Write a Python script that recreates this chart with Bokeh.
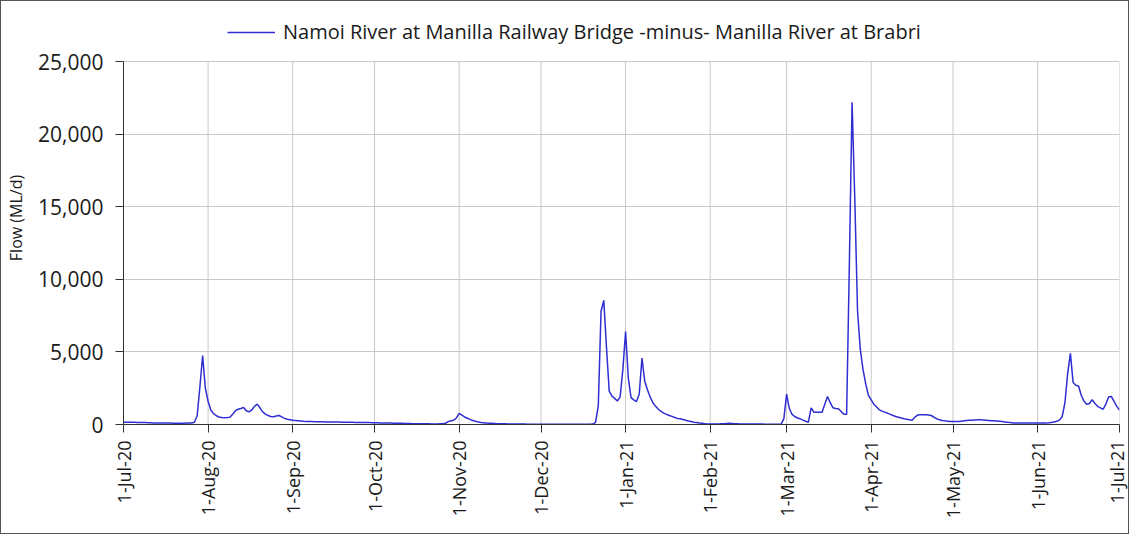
import math
import pandas as pd
from bokeh.plotting import figure
from bokeh.models import (ColumnDataSource, Range1d, FixedTicker, NumeralTickFormatter,
                          Legend, LegendItem)
from bokeh.embed import file_html
from bokeh.resources import INLINE

series_name = "Namoi River at Manilla Railway Bridge -minus- Manilla River at Brabri"
y_label = "Flow (ML/d)"
start_date = "2020-07-01"
end_date = "2021-07-01"

tick_dates = ["2020-07-01", "2020-08-01", "2020-09-01", "2020-10-01", "2020-11-01",
              "2020-12-01", "2021-01-01", "2021-02-01", "2021-03-01", "2021-04-01",
              "2021-05-01", "2021-06-01", "2021-07-01"]
tick_labels = ["1-Jul-20", "1-Aug-20", "1-Sep-20", "1-Oct-20", "1-Nov-20", "1-Dec-20",
               "1-Jan-21", "1-Feb-21", "1-Mar-21", "1-Apr-21", "1-May-21", "1-Jun-21",
               "1-Jul-21"]
y_ticks = [0, 5000, 10000, 15000, 20000, 25000]

# daily flow (ML/d)
flow_jul20 = [150, 160, 160, 150, 150, 140, 140, 130, 130, 120, 120, 110, 110, 100, 100,
              100, 100, 100, 90, 90, 90, 90, 90, 100, 100, 100, 150, 600, 2600, 4750, 2500]
flow_aug20 = [1600, 1000, 750, 600, 520, 480, 470, 480, 500,
              700, 950, 1050, 1100, 1170, 950, 870, 1000, 1250, 1400,
              1150, 870, 720, 620, 550, 540, 580, 620, 520, 420, 360, 330]
flow_sep20 = [300, 280, 260, 240, 220, 210, 200, 200, 195, 190, 190, 185, 180, 180, 175,
              170, 170, 165, 160, 160, 155, 150, 150, 145, 140, 140, 135, 130, 130, 125]
flow_oct20 = [120, 115, 110, 105, 100, 100, 95, 90, 85, 80, 80, 75, 70, 65, 60, 60, 55, 50,
              50, 45, 45, 40, 40, 40, 50, 60, 80, 200, 260, 300, 450]
flow_nov20 = [760, 650, 520, 430, 350, 280, 220, 170, 140, 120, 100, 90, 80, 70, 60, 55, 50,
              45, 40, 40, 35, 35, 30, 30, 30, 25, 25, 25, 20, 20]
flow_dec20 = [25, 20, 20, 20, 15, 15, 15, 15, 15, 15, 15, 15, 15, 15, 15, 15, 15, 15, 15,
              30, 150, 1300, 7800, 8550, 5300, 2300, 1950, 1800, 1620, 1900, 3800]
flow_jan21 = [6400, 3200, 1850, 1700, 1580, 2100, 4570, 3000, 2400, 1900, 1500, 1250, 1050,
              900, 780, 700, 620, 560, 480, 420, 390, 340, 290, 240, 200, 160, 130, 100, 80,
              60, 40]
flow_feb21 = [30, 30, 30, 40, 50, 60, 70, 80, 70, 60, 50, 40, 40, 40, 40, 30, 30, 30, 30, 30,
              20, 20, 20, 20, 20, 20, 30, 400]
flow_mar21 = [2090, 1100, 700, 550, 450, 390, 300, 220, 160, 1150, 850, 850, 850, 850, 1400,
              1930, 1500, 1150, 1100, 1080, 900, 700, 700, 11000, 22200, 15500, 7800, 5200,
              3800, 2800, 2000]
flow_apr21 = [1700, 1400, 1200, 1010, 920, 850, 780, 700, 620, 550, 500, 450, 400, 360, 320,
              300, 500, 650, 670, 680, 670, 660, 620, 500, 400, 320, 280, 250, 230, 210]
flow_may21 = [200, 200, 210, 230, 250, 270, 290, 300, 310, 320, 320, 310, 300, 280, 260, 250,
              240, 220, 200, 180, 150, 130, 110, 100, 100, 100, 100, 100, 100, 100, 100]
flow_jun21 = [100, 100, 100, 110, 120, 140, 170, 220, 300, 550, 1500, 3500, 4900, 2900, 2700,
              2650, 2000, 1600, 1400, 1450, 1700, 1450, 1250, 1150, 1050, 1400, 1900, 1930,
              1600, 1250]
flow_jul21 = [1000]

flow = (flow_jul20 + flow_aug20 + flow_sep20 + flow_oct20 + flow_nov20 + flow_dec20 +
        flow_jan21 + flow_feb21 + flow_mar21 + flow_apr21 + flow_may21 + flow_jun21 +
        flow_jul21)
dates = pd.date_range(start_date, end_date, freq="D")
assert len(dates) == len(flow)

src = ColumnDataSource(dict(date=dates, flow=flow))

FONT = "Open Sans"
TEXT = "#1a1a1a"
GRID = "#c8c8c8"


def to_ms(d):
    return int(pd.Timestamp(d).value // 10**6)


tick_ms = [to_ms(d) for d in tick_dates]

# layout (pixels)
W, H = 1129, 534
TOP, BOTTOM, LEFT, RIGHT = 10, 111, 122, 11
PLOT_H = 363                       # height of the 0..25,000 band
frame_h = H - TOP - BOTTOM
y_max = y_ticks[-1]
y_end = y_max * frame_h / PLOT_H   # headroom so the legend sits inside the frame

p = figure(width=W, height=H, x_axis_type="datetime",
           x_range=Range1d(to_ms(start_date), to_ms(end_date)),
           y_range=Range1d(0, y_end),
           output_backend="svg", toolbar_location=None,
           min_border_left=LEFT, min_border_right=RIGHT,
           min_border_top=TOP, min_border_bottom=BOTTOM)
p.styles = {"border": "1px solid #555555"}
p.background_fill_color = "white"
p.border_fill_color = "white"
p.outline_line_color = None

# vertical gridlines, limited to the 0..25,000 band
p.segment(x0=pd.to_datetime(tick_dates), y0=[y_ticks[0]] * len(tick_dates),
          x1=pd.to_datetime(tick_dates), y1=[y_max] * len(tick_dates),
          line_color=GRID, line_width=1)

r = p.line("date", "flow", source=src, line_color="#2e2ed2", line_width=1.5)

# axes
p.xaxis.ticker = FixedTicker(ticks=tick_ms)
p.xaxis.major_label_overrides = {t: lab for t, lab in zip(tick_ms, tick_labels)}
p.xaxis.major_label_orientation = math.pi / 2
p.yaxis.ticker = FixedTicker(ticks=y_ticks)
p.yaxis.bounds = (y_ticks[0], y_max)
p.yaxis.formatter = NumeralTickFormatter(format="0,0")
p.yaxis.axis_label = y_label
p.yaxis.axis_label_text_font_style = "normal"
p.yaxis.axis_label_text_font_size = "16px"
p.yaxis.axis_label_text_font = FONT
p.yaxis.axis_label_text_color = TEXT
p.yaxis.axis_label_standoff = 8

for ax in (p.xaxis[0], p.yaxis[0]):
    ax.axis_line_color = "#333333"
    ax.major_tick_line_color = "#333333"
    ax.major_tick_in = 0
    ax.major_tick_out = 8
    ax.minor_tick_line_color = None
    ax.major_label_text_font = FONT
    ax.major_label_text_color = TEXT
p.yaxis.major_label_text_font_size = "21px"
p.yaxis.major_label_standoff = 12
p.xaxis.major_label_text_font_size = "18px"
p.xaxis.major_label_standoff = 8

p.xgrid.grid_line_color = None
p.ygrid.ticker = FixedTicker(ticks=y_ticks)
p.ygrid.grid_line_color = GRID
p.ygrid.grid_line_width = 1

legend = Legend(items=[LegendItem(label=series_name, renderers=[r])],
                location=(104, 379), glyph_width=48, glyph_height=22,
                label_standoff=8, padding=0, margin=0,
                border_line_color=None, background_fill_alpha=0,
                label_text_font=FONT, label_text_font_size="20px",
                label_text_color=TEXT)
p.add_layout(legend)

open("out.html", "w").write(file_html(p, INLINE))
